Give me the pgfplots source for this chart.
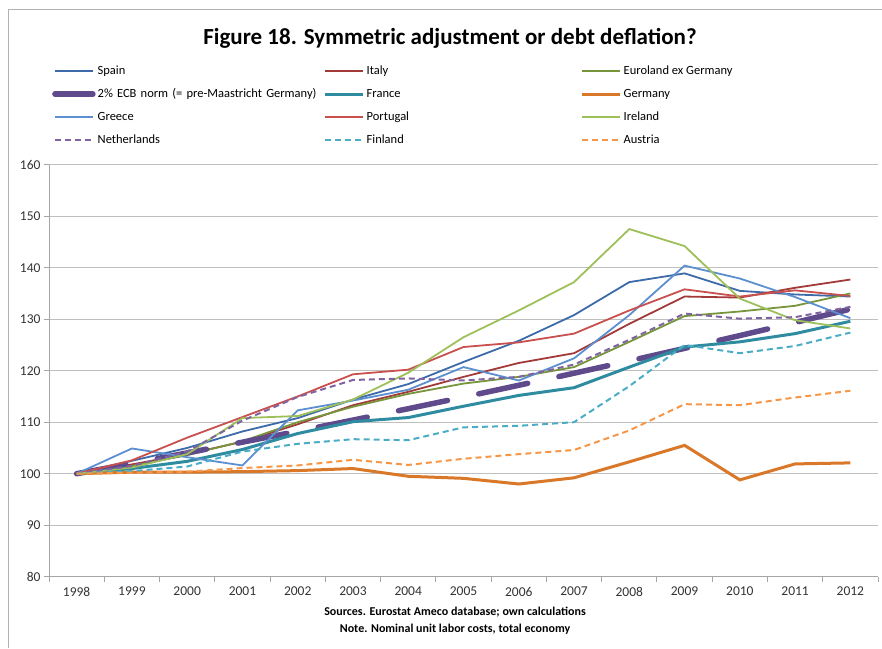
\documentclass[border=0pt]{standalone}
\usepackage{fontspec}
\setmainfont{Carlito}
\usepackage{pgfplots}
\pgfplotsset{compat=1.18}
\usepackage{pgfplotstable}

\definecolor{cSpain}{HTML}{3D6AA8}
\definecolor{cItaly}{HTML}{A33A3A}
\definecolor{cEuro}{HTML}{77963C}
\definecolor{cECB}{HTML}{5F4A8B}
\definecolor{cFrance}{HTML}{2F8CA0}
\definecolor{cGermany}{HTML}{D97828}
\definecolor{cGreece}{HTML}{5B8FD0}
\definecolor{cPortugal}{HTML}{C8504E}
\definecolor{cIreland}{HTML}{9DC05A}
\definecolor{cNeth}{HTML}{8064A2}
\definecolor{cFinland}{HTML}{4BACC6}
\definecolor{cAustria}{HTML}{F79646}

\pgfplotstableread{
x Spain Italy Euro ECB France Germany Greece Portugal Ireland Neth Finland Austria
0  100   100   100   100    100   100   100   100   100   100   100   100
1  102.5 101.8 101.5 102.00 101.0 100.3 104.9 102.6 101.2 101.5 100.5 100.2
2  105.0 103.8 103.6 104.04 102.4 100.3 103.2 107.0 103.8 104.3 101.4 100.4
3  108.2 106.2 106.3 106.12 104.7 100.4 101.6 111.0 110.8 110.3 104.3 101.1
4  110.8 109.6 110.0 108.24 107.8 100.6 112.3 115.0 111.2 114.9 105.8 101.6
5  114.4 113.3 113.0 110.41 110.1 101.0 114.2 119.3 114.4 118.2 106.7 102.7
6  117.4 115.9 115.5 112.62 110.9 99.5  116.3 120.2 119.6 118.5 106.5 101.7
7  121.7 118.8 117.5 114.87 113.1 99.1  120.7 124.6 126.5 118.1 109.0 102.9
8  125.8 121.5 118.8 117.17 115.2 98.0  118.1 125.5 131.7 118.8 109.3 103.8
9  130.8 123.4 120.7 119.51 116.7 99.2  122.4 127.2 137.2 121.2 110.0 104.6
10 137.2 129.1 125.6 121.90 120.7 102.3 130.8 131.7 147.5 126.0 117.0 108.4
11 138.9 134.4 130.6 124.34 124.6 105.5 140.4 135.8 144.2 131.1 125.0 113.5
12 135.5 134.2 131.5 126.82 125.6 98.8  137.9 134.4 134.0 130.1 123.4 113.3
13 134.8 136.1 132.6 129.36 127.2 101.9 134.3 135.6 129.8 130.4 124.8 114.8
14 134.4 137.7 135.0 131.95 129.6 102.1 130.2 134.5 128.2 132.4 127.4 116.1
}\data

\begin{document}
\begin{tikzpicture}[x=1pt,y=1pt]
\path[use as bounding box] (0,0) rectangle (882,648);
\draw[black!30, line width=1pt] (8,0) -- (8,638) -- (882,638);
\node[font=\bfseries\fontsize{23}{26}\selectfont] at (450,610) {Figure 18. Symmetric adjustment or debt deflation?};
\begin{axis}[
  at={(49pt,71.3pt)}, anchor=south west,
  width=829pt, height=412pt, scale only axis,
  xmin=-0.5, xmax=14.5, ymin=80, ymax=160,
  axis lines=left, axis line style={-, black!35, line width=1pt},
  ytick={80,90,...,160},
  xtick={-0.5,0.5,...,14.5}, xticklabels={},
  extra x ticks={0,...,14},
  extra x tick labels={1998,1999,2000,2001,2002,2003,2004,2005,2006,2007,2008,2009,2010,2011,2012},
  extra x tick style={major tick length=0pt, grid=none, xticklabel style={yshift=-7pt}},
  tick align=outside, major tick length=5pt,
  tick style={black!35, line width=1pt},
  ymajorgrids, grid style={black!25, line width=1.2pt},
  tick label style={font=\fontsize{13.5}{15}\selectfont, text=black!80},
  /pgf/number format/assume math mode=true,
  legend columns=3,
  legend cell align=left,
  legend image code/.code={\draw[#1] (0pt,0pt) -- (38pt,0pt);},
  legend style={draw=none, fill=none, inner sep=0pt,
    at={(0.0036,1.2420)}, anchor=north west,
    font=\fontsize{12.5}{15}\selectfont,
    nodes={inner xsep=0pt, inner ysep=0pt, text height=9pt, text depth=3pt},
    row sep=11pt,
    /tikz/every odd column/.append style={column sep=2pt},
    /tikz/column 2/.append style={column sep=4pt, nodes={text width=222pt}},
    /tikz/column 4/.append style={column sep=4pt, nodes={text width=210pt}},
  },
]
\addplot[cSpain, line width=1.8pt] table[x=x,y=Spain] {\data};
\addlegendentry{Spain}
\addplot[cItaly, line width=1.8pt] table[x=x,y=Italy] {\data};
\addlegendentry{Italy}
\addplot[cEuro, line width=1.8pt] table[x=x,y=Euro] {\data};
\addlegendentry{Euroland ex Germany}
\addplot[cECB, line width=5.5pt, line cap=round, dash pattern=on 50pt off 32pt] table[x=x,y=ECB] {\data};
\addlegendentry{2\% ECB norm (= pre-Maastricht Germany)}
\addplot[cFrance, line width=3pt] table[x=x,y=France] {\data};
\addlegendentry{France}
\addplot[cGermany, line width=3pt] table[x=x,y=Germany] {\data};
\addlegendentry{Germany}
\addplot[cGreece, line width=1.8pt] table[x=x,y=Greece] {\data};
\addlegendentry{Greece}
\addplot[cPortugal, line width=1.8pt] table[x=x,y=Portugal] {\data};
\addlegendentry{Portugal}
\addplot[cIreland, line width=1.8pt] table[x=x,y=Ireland] {\data};
\addlegendentry{Ireland}
\addplot[cNeth, line width=2pt, dash pattern=on 6pt off 4pt] table[x=x,y=Neth] {\data};
\addlegendentry{Netherlands}
\addplot[cFinland, line width=2pt, dash pattern=on 6pt off 4pt] table[x=x,y=Finland] {\data};
\addlegendentry{Finland}
\addplot[cAustria, line width=2pt, dash pattern=on 6pt off 4pt] table[x=x,y=Austria] {\data};
\addlegendentry{Austria}
\end{axis}
\node[font=\bfseries\fontsize{12}{13}\selectfont] at (455,36) {Sources. Eurostat Ameco database; own calculations};
\node[font=\bfseries\fontsize{12}{13}\selectfont] at (455,19) {Note. Nominal unit labor costs, total economy};
\end{tikzpicture}
\end{document}
